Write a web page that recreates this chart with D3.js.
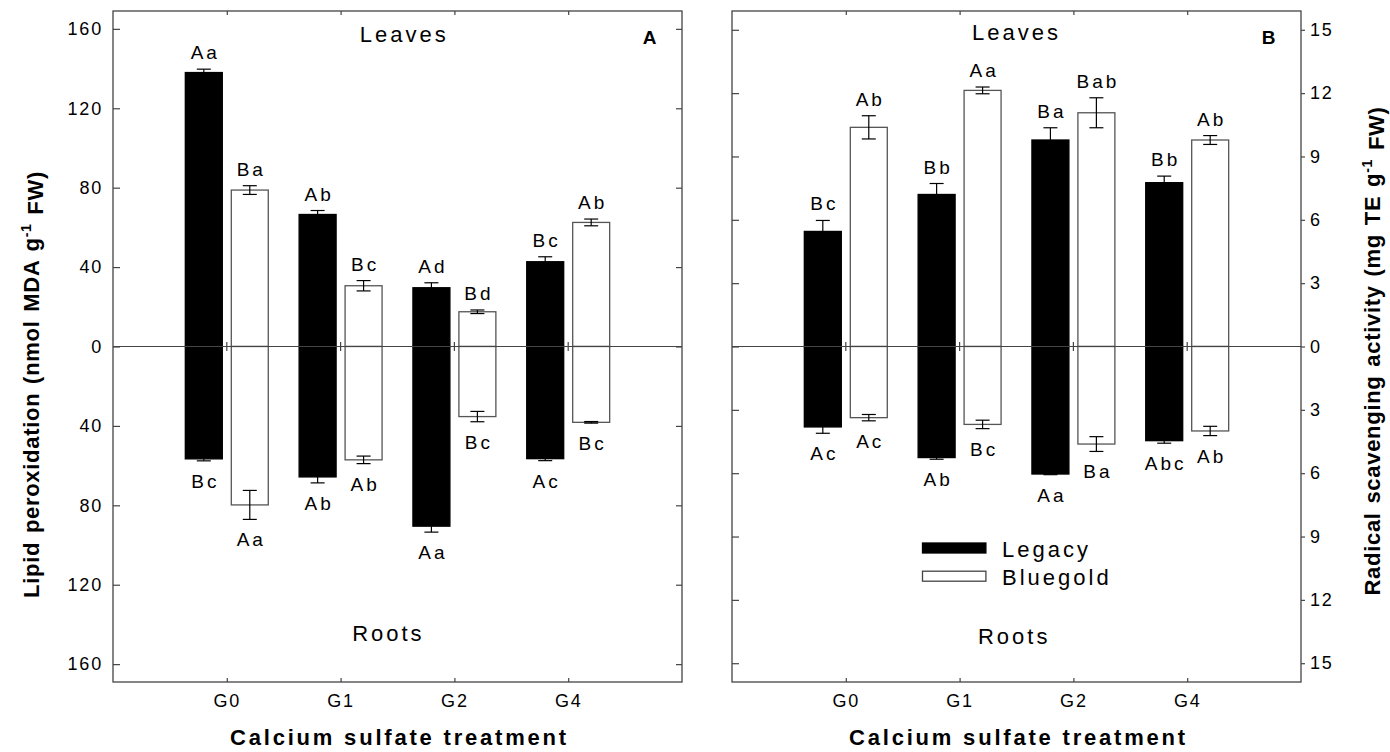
<!DOCTYPE html>
<html>
<head>
<meta charset="UTF-8">
<title>Lipid peroxidation / radical scavenging</title>
<script src="https://d3js.org/d3.v7.min.js"></script>
<style>
  body { margin: 0; background: #fff; }
  svg text { font-family: Arial, "Liberation Sans", sans-serif; fill: #000; }
  .tick text { font-size: 18px; letter-spacing: 1.8px; }
  .tick line { stroke: #444; stroke-width: 1.2; }
  .bar-label { font-size: 19px; letter-spacing: 3px; text-anchor: middle; }
  .region-label { font-size: 22px; letter-spacing: 3px; text-anchor: middle; }
  .axis-title { font-size: 22px; font-weight: bold; letter-spacing: 0.7px; word-spacing: 2px; text-anchor: middle; }
  .x-title { font-size: 22px; font-weight: bold; letter-spacing: 2.8px; text-anchor: middle; }
  .panel-tag { font-size: 19px; font-weight: bold; text-anchor: middle; }
  .legend-text { font-size: 22px; letter-spacing: 3px; }
</style>
</head>
<body>
<svg id="chart" width="1390" height="752"></svg>
<script>
// categories
const groups = ["G0", "G1", "G2", "G4"];
const groupPos = [1, 2, 3, 4];
const cultivars = ["Legacy", "Bluegold"];

// A: lipid peroxidation (nmol MDA g-1 FW)
const lipidLeafLegacy = [138, 66.5, 29.6, 42.7];
const lipidLeafLegacyErr = [1.7, 2, 2.5, 2.5];
const lipidLeafBluegold = [78.8, 30.6, 17.5, 62.5];
const lipidLeafBluegoldErr = [2.2, 2.6, 0.9, 1.7];
const lipidRootLegacy = [56.6, 65.7, 90.5, 56.5];
const lipidRootLegacyErr = [1, 3, 3, 1];
const lipidRootBluegold = [79.8, 57.1, 35.3, 38.2];
const lipidRootBluegoldErr = [7.3, 1.9, 2.6, 0.4];
const lipidLeafLegacyTxt = ["Aa", "Ab", "Ad", "Bc"];
const lipidLeafBluegoldTxt = ["Ba", "Bc", "Bd", "Ab"];
const lipidRootLegacyTxt = ["Bc", "Ab", "Aa", "Ac"];
const lipidRootBluegoldTxt = ["Aa", "Ab", "Bc", "Bc"];
const lipidTicks = [-160, -120, -80, -40, 0, 40, 80, 120, 160];

// B: radical scavenging activity (mg TE g-1 FW)
const rsaLeafLegacy = [5.45, 7.2, 9.78, 7.76];
const rsaLeafLegacyErr = [0.52, 0.52, 0.58, 0.31];
const rsaLeafBluegold = [10.38, 12.13, 11.07, 9.78];
const rsaLeafBluegoldErr = [0.55, 0.16, 0.71, 0.21];
const rsaRootLegacy = [3.81, 5.26, 6.04, 4.46];
const rsaRootLegacyErr = [0.3, 0.08, 0.03, 0.12];
const rsaRootBluegold = [3.37, 3.69, 4.62, 4.0];
const rsaRootBluegoldErr = [0.15, 0.2, 0.35, 0.22];
const rsaLeafLegacyTxt = ["Bc", "Bb", "Ba", "Bb"];
const rsaLeafBluegoldTxt = ["Ab", "Aa", "Bab", "Ab"];
const rsaRootLegacyTxt = ["Ac", "Ab", "Aa", "Abc"];
const rsaRootBluegoldTxt = ["Ac", "Bc", "Ba", "Ab"];
const rsaTicks = [-15, -12, -9, -6, -3, 0, 3, 6, 9, 12, 15];

const svg = d3.select("#chart");
const top0 = 11, width = 569, height = 671;

// build bar rows for one panel; roots go below zero
function rows(leafL, leafLE, leafB, leafBE, rootL, rootLE, rootB, rootBE, tLL, tLB, tRL, tRB) {
  const out = [];
  groups.forEach((g, i) => {
    out.push({pos: groupPos[i], side: -1, v: leafL[i], e: leafLE[i], txt: tLL[i]});
    out.push({pos: groupPos[i], side: 1, v: leafB[i], e: leafBE[i], txt: tLB[i]});
    out.push({pos: groupPos[i], side: -1, v: -rootL[i], e: rootLE[i], txt: tRL[i]});
    out.push({pos: groupPos[i], side: 1, v: -rootB[i], e: rootBE[i], txt: tRB[i]});
  });
  return out;
}

function drawPanel(p) {
  const g = svg.append("g").attr("transform", "translate(" + p.left + "," + top0 + ")");
  const x = d3.scaleLinear().domain([0, 5]).range([0, width]);
  const y = d3.scaleLinear().domain([-p.yMax, p.yMax]).range([height, 0]);
  const bw = x(0.325) - x(0);
  const off = x(0.202) - x(0);

  // bars
  g.selectAll(".bar").data(p.data).join("rect")
    .attr("x", d => x(d.pos) + d.side * off - bw / 2)
    .attr("y", d => y(Math.max(d.v, 0)))
    .attr("width", bw)
    .attr("height", d => Math.abs(y(d.v) - y(0)))
    .attr("fill", d => d.side < 0 ? "#000" : "#fff")
    .attr("stroke", d => d.side < 0 ? "#000" : "#555")
    .attr("stroke-width", 1.3);

  // error bars
  const eb = g.selectAll(".err").data(p.data).join("g")
    .attr("stroke", "#000").attr("stroke-width", 1.2);
  eb.append("line")
    .attr("x1", d => x(d.pos) + d.side * off).attr("x2", d => x(d.pos) + d.side * off)
    .attr("y1", d => y(d.v - d.e)).attr("y2", d => y(d.v + d.e));
  [-1, 1].forEach(s => {
    eb.append("line")
      .attr("x1", d => x(d.pos) + d.side * off - 7).attr("x2", d => x(d.pos) + d.side * off + 7)
      .attr("y1", d => y(d.v + s * d.e)).attr("y2", d => y(d.v + s * d.e));
  });

  // letters
  g.selectAll(".bar-label").data(p.data).join("text")
    .attr("class", "bar-label")
    .attr("x", d => x(d.pos) + d.side * off + 1.5)
    .attr("y", d => d.v > 0 ? y(d.v + d.e) - 10 : y(d.v - d.e) + 27)
    .text(d => d.txt);

  // zero line with ticks
  g.append("line").attr("x1", 0).attr("x2", width).attr("y1", y(0)).attr("y2", y(0))
    .attr("stroke", "#444").attr("stroke-width", 1.2);
  g.selectAll(".ztick").data(groupPos).join("line")
    .attr("x1", d => x(d)).attr("x2", d => x(d))
    .attr("y1", y(0) - 4.5).attr("y2", y(0) + 4.5)
    .attr("stroke", "#444").attr("stroke-width", 1.2);

  // frame
  g.append("rect").attr("width", width).attr("height", height)
    .attr("fill", "none").attr("stroke", "#444").attr("stroke-width", 1.3);

  const noDomain = s => s.select(".domain").remove();
  // bottom axis with labels, top without
  g.append("g").attr("transform", "translate(0," + height + ")")
    .call(d3.axisBottom(x).tickValues(groupPos).tickSize(-4).tickPadding(12)
      .tickFormat((d, i) => groups[i]))
    .call(noDomain);
  g.append("g")
    .call(d3.axisTop(x).tickValues(groupPos).tickSize(-4).tickFormat(""))
    .call(noDomain);

  // y axes
  if (p.labelSide === "left") {
    g.append("g").call(d3.axisLeft(y).tickValues(p.ticks).tickSize(-7).tickPadding(10)
      .tickFormat(d => Math.abs(d))).call(noDomain);
    g.append("g").attr("transform", "translate(" + width + ",0)")
      .call(d3.axisRight(y).tickValues(p.ticks).tickSize(-6).tickFormat("")).call(noDomain);
  } else {
    g.append("g").call(d3.axisLeft(y).tickValues(p.ticks).tickSize(-7).tickFormat("")).call(noDomain);
    g.append("g").attr("transform", "translate(" + width + ",0)")
      .call(d3.axisRight(y).tickValues(p.ticks).tickSize(4).tickPadding(5)
        .tickFormat(d => Math.abs(d))).call(noDomain);
  }

  // region labels and panel tag
  g.append("text").attr("class", "region-label").attr("x", x(p.leavesAt)).attr("y", p.leavesY).text("Leaves");
  g.append("text").attr("class", "region-label").attr("x", x(p.rootsAt)).attr("y", p.rootsY).text("Roots");
  g.append("text").attr("class", "panel-tag").attr("x", width - 32.5).attr("y", 33).text(p.tag);

  // x title
  g.append("text").attr("class", "x-title").attr("x", width / 2 + 2).attr("y", 734)
    .text("Calcium sulfate treatment");
  return g;
}

function yTitle(xPos, yPos, main, unit) {
  const t = svg.append("text").attr("class", "axis-title")
    .attr("transform", "translate(" + xPos + "," + yPos + ") rotate(-90)");
  t.append("tspan").text(main + " (" + unit + " g");
  t.append("tspan").attr("dy", "-0.55em").style("font-size", "14px").text("-1");
  t.append("tspan").attr("dy", "0.55em").text(" FW)");
}

drawPanel({
  left: 113, yMax: 169, ticks: lipidTicks, labelSide: "left", tag: "A",
  leavesAt: 2.56, leavesY: 30.7, rootsAt: 2.42, rootsY: 629.7,
  data: rows(lipidLeafLegacy, lipidLeafLegacyErr, lipidLeafBluegold, lipidLeafBluegoldErr,
             lipidRootLegacy, lipidRootLegacyErr, lipidRootBluegold, lipidRootBluegoldErr,
             lipidLeafLegacyTxt, lipidLeafBluegoldTxt, lipidRootLegacyTxt, lipidRootBluegoldTxt)
});

const pB = drawPanel({
  left: 732, yMax: 15.89, ticks: rsaTicks, labelSide: "right", tag: "B",
  leavesAt: 2.5, leavesY: 28.5, rootsAt: 2.48, rootsY: 633,
  data: rows(rsaLeafLegacy, rsaLeafLegacyErr, rsaLeafBluegold, rsaLeafBluegoldErr,
             rsaRootLegacy, rsaRootLegacyErr, rsaRootBluegold, rsaRootBluegoldErr,
             rsaLeafLegacyTxt, rsaLeafBluegoldTxt, rsaRootLegacyTxt, rsaRootBluegoldTxt)
});

// legend in panel B
const leg = pB.append("g").attr("transform", "translate(190.5,532)");
cultivars.forEach((c, i) => {
  leg.append("rect").attr("x", 0).attr("y", i * 28.2).attr("width", 63.4).attr("height", 10)
    .attr("fill", i === 0 ? "#000" : "#fff")
    .attr("stroke", i === 0 ? "#000" : "#444").attr("stroke-width", 1.3);
  leg.append("text").attr("class", "legend-text").attr("x", 79.5).attr("y", 13.5 + i * 28.3).text(c);
});

yTitle(39, 384.5, "Lipid peroxidation", "nmol MDA");
yTitle(1380, 351, "Radical scavenging activity", "mg TE");
</script>
</body>
</html>
